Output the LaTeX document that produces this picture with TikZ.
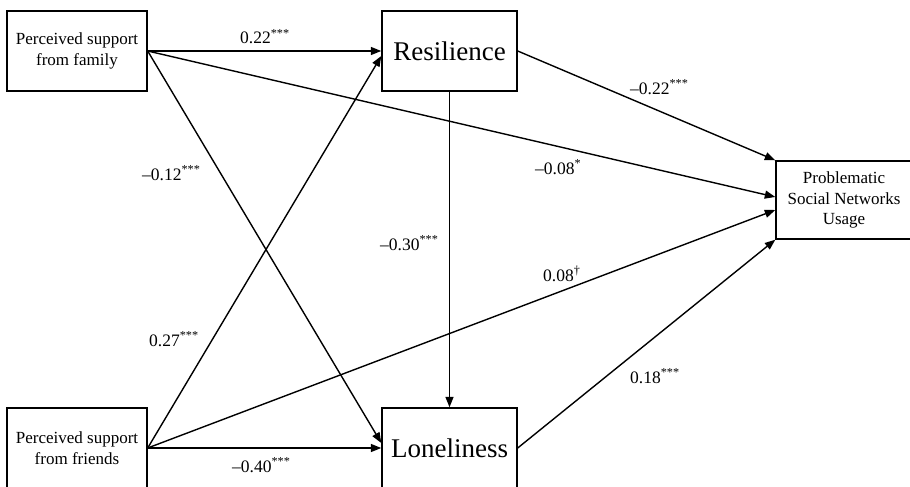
\documentclass[tikz,border=0pt]{standalone}
\usepackage{fontspec}
\setmainfont{Liberation Serif}
\usetikzlibrary{arrows.meta,calc}
\begin{document}
\begin{tikzpicture}[x=1pt,y=-1pt,
 box/.style={draw, line width=1.4pt, rectangle, align=center, inner sep=0pt, font=\fontsize{17}{20.5}\selectfont},
 bigbox/.style={box, font=\fontsize{27}{30}\selectfont},
 conn/.style={line width=1.4pt, -{Triangle[length=10.5pt,width=8pt]}},
 lab/.style={anchor=base west, inner sep=0pt, font=\fontsize{17.5}{20}\selectfont}]
\useasboundingbox (0,0) rectangle (910,487);
\node[box, minimum width=140pt, minimum height=80pt] (fam) at (77,51) {Perceived support\\from family};
\node[box, minimum width=140pt, minimum height=80pt] (fri) at (77,448) {Perceived support\\from friends};
\node[bigbox, minimum width=135pt, minimum height=80pt] (res) at (449.5,51) {Resilience};
\node[bigbox, minimum width=135pt, minimum height=80pt] (lon) at (449.5,448) {Loneliness};
\node[box, minimum width=136pt, minimum height=78pt] (psnu) at (844,200) {Problematic\\Social Networks\\Usage};

\coordinate (resin) at ($(res.west)+(0,5)$);
\coordinate (lonin) at ($(lon.west)+(0,-5)$);
\coordinate (psfam) at ($(psnu.west)+(0,-3)$);
\coordinate (psfri) at ($(psnu.west)+(0,10)$);

\draw[conn] (fam.east) -- (res.west);
\draw[conn] (fam.east) -- (lonin);
\draw[conn] (fam.east) -- (psfam);
\draw[conn] (fri.east) -- (resin);
\draw[conn] (fri.east) -- (lon.west);
\draw[conn] (fri.east) -- (psfri);
\draw[conn] (res.east) -- (psnu.north west);
\draw[conn] (res.south) -- (lon.north);
\draw[conn] (lon.east) -- (psnu.south west);

\node[lab] (l1) at (240,44) {0.22\textsuperscript{***}};
\node[lab] (l2) at (142,180) {--0.12\textsuperscript{***}};
\node[lab] (l3) at (149,346) {0.27\textsuperscript{***}};
\node[lab] (l4) at (232,472) {--0.40\textsuperscript{***}};
\node[lab] (l5) at (380,250) {--0.30\textsuperscript{***}};
\node[lab] (l6) at (630,94) {--0.22\textsuperscript{***}};
\node[lab] (l7) at (535,174) {--0.08\textsuperscript{*}};
\node[lab] (l8) at (543,281) {0.08\textsuperscript{†}};
\node[lab] (l9) at (630,383) {0.18\textsuperscript{***}};
\end{tikzpicture}
\end{document}
